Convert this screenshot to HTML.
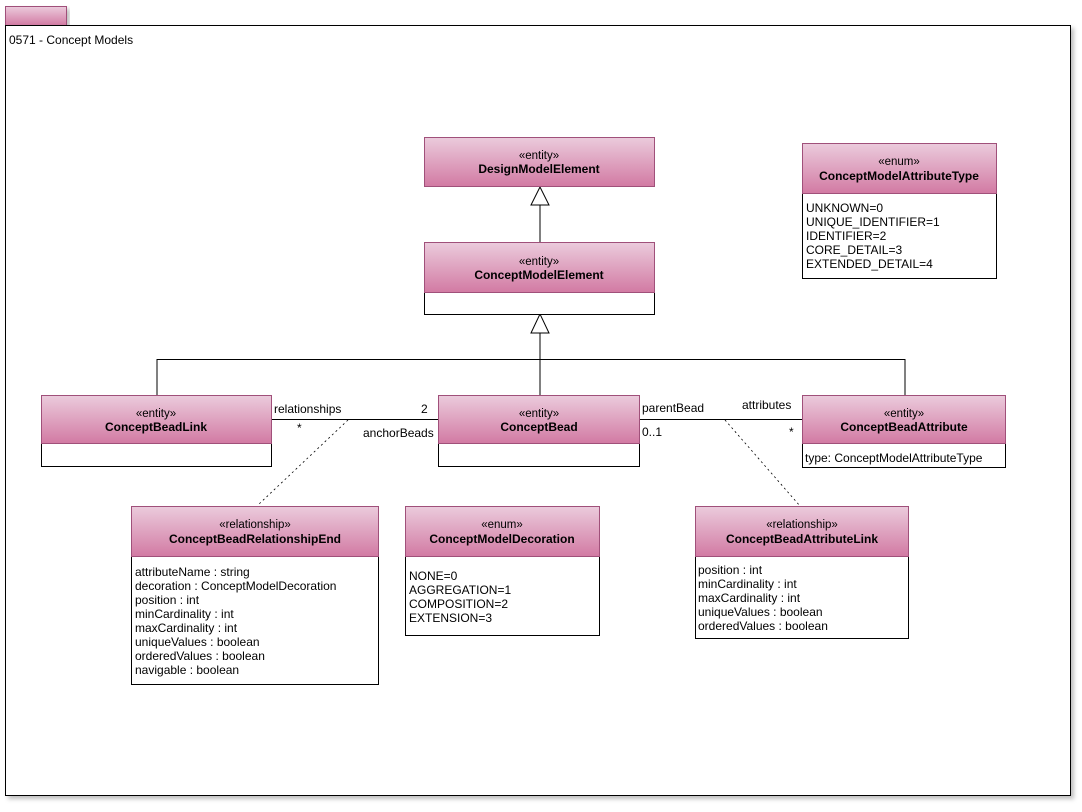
<!DOCTYPE html>
<html><head><meta charset="utf-8"><style>
body{margin:0;background:#fff}
svg{display:block;font-family:"Liberation Sans",Arial,sans-serif}
</style></head><body>
<svg width="1082" height="812" viewBox="0 0 1082 812" xmlns="http://www.w3.org/2000/svg">
<defs>
<linearGradient id="g" x1="0" y1="0" x2="0" y2="1">
<stop offset="0" stop-color="#ebcbdc"/><stop offset="1" stop-color="#d27aa3"/>
</linearGradient>
<filter id="sh" x="-5%" y="-5%" width="110%" height="110%"><feDropShadow dx="3" dy="3" stdDeviation="2" flood-color="#000" flood-opacity="0.25"/></filter>
</defs>
<rect x="5.5" y="6.5" width="61" height="19" fill="url(#g)" stroke="#a0507a" filter="url(#sh)"/>
<rect x="5.5" y="25.5" width="1065" height="770" fill="#fff" stroke="#000" filter="url(#sh)"/>
<text x="9" y="44" font-size="12">0571 - Concept Models</text>

<g stroke="#000" fill="none">
<line x1="540" y1="205" x2="540" y2="242"/>
<polygon points="540,187 531,205 549,205" fill="#fff"/>
<line x1="540" y1="333" x2="540" y2="395"/>
<polygon points="540,314 531,333 549,333" fill="#fff"/>
<polyline points="157,395 157,359.5 905,359.5 905,395"/>
<line x1="272" y1="419.5" x2="438" y2="419.5"/>
<line x1="640" y1="419.5" x2="802" y2="419.5"/>
<line x1="348" y1="420" x2="258" y2="505" stroke-dasharray="2,3" stroke-width="0.8"/>
<line x1="725" y1="420" x2="800" y2="506" stroke-dasharray="2,3" stroke-width="0.8"/>
</g>
<g font-size="12">
<text x="274" y="413">relationships</text>
<text x="297" y="432">*</text>
<text x="421" y="413">2</text>
<text x="363" y="437">anchorBeads</text>
<text x="642" y="412">parentBead</text>
<text x="642" y="436">0..1</text>
<text x="742" y="409">attributes</text>
<text x="789" y="436">*</text>
</g>

<g font-size="11.5" text-anchor="middle">
<rect x="424.5" y="137.5" width="230" height="49" fill="url(#g)" stroke="#a0507a"/>
<text x="539" y="159">«entity»</text><text x="539" y="173" font-weight="bold" font-size="12">DesignModelElement</text>
<rect x="424.5" y="292.5" width="230" height="22" fill="#fff" stroke="#000"/>
<rect x="424.5" y="242.5" width="230" height="50" fill="url(#g)" stroke="#a0507a"/>
<text x="539" y="265">«entity»</text><text x="539" y="279" font-weight="bold" font-size="12">ConceptModelElement</text>
<rect x="41.5" y="443.5" width="230" height="23" fill="#fff" stroke="#000"/>
<rect x="41.5" y="395.5" width="230" height="48" fill="url(#g)" stroke="#a0507a"/>
<text x="156" y="417">«entity»</text><text x="156" y="431" font-weight="bold" font-size="12">ConceptBeadLink</text>
<rect x="438.5" y="443.5" width="201" height="23" fill="#fff" stroke="#000"/>
<rect x="438.5" y="395.5" width="201" height="48" fill="url(#g)" stroke="#a0507a"/>
<text x="539" y="417">«entity»</text><text x="539" y="431" font-weight="bold" font-size="12">ConceptBead</text>
<rect x="802.5" y="443.5" width="203" height="24" fill="#fff" stroke="#000"/>
<rect x="802.5" y="395.5" width="203" height="48" fill="url(#g)" stroke="#a0507a"/>
<text x="904" y="417">«entity»</text><text x="904" y="431" font-weight="bold" font-size="12">ConceptBeadAttribute</text>
<rect x="802.5" y="193.5" width="194" height="85" fill="#fff" stroke="#000"/>
<rect x="802.5" y="143.5" width="194" height="50" fill="url(#g)" stroke="#a0507a"/>
<text x="899" y="165">«enum»</text><text x="899" y="180" font-weight="bold" font-size="12">ConceptModelAttributeType</text>
<rect x="131.5" y="556.5" width="247" height="128" fill="#fff" stroke="#000"/>
<rect x="131.5" y="506.5" width="247" height="50" fill="url(#g)" stroke="#a0507a"/>
<text x="255" y="528">«relationship»</text><text x="255" y="543" font-weight="bold" font-size="12">ConceptBeadRelationshipEnd</text>
<rect x="405.5" y="556.5" width="194" height="79" fill="#fff" stroke="#000"/>
<rect x="405.5" y="506.5" width="194" height="50" fill="url(#g)" stroke="#a0507a"/>
<text x="502" y="528">«enum»</text><text x="502" y="543" font-weight="bold" font-size="12">ConceptModelDecoration</text>
<rect x="695.5" y="556.5" width="213" height="82" fill="#fff" stroke="#000"/>
<rect x="695.5" y="506.5" width="213" height="50" fill="url(#g)" stroke="#a0507a"/>
<text x="802" y="528">«relationship»</text><text x="802" y="543" font-weight="bold" font-size="12">ConceptBeadAttributeLink</text>
</g>

<g font-size="12">
<text x="805" y="462">type: ConceptModelAttributeType</text>
<text x="806" y="212">UNKNOWN=0</text>
<text x="806" y="226">UNIQUE_IDENTIFIER=1</text>
<text x="806" y="240">IDENTIFIER=2</text>
<text x="806" y="254">CORE_DETAIL=3</text>
<text x="806" y="268">EXTENDED_DETAIL=4</text>

<text x="135" y="576">attributeName : string</text>
<text x="135" y="590">decoration : ConceptModelDecoration</text>
<text x="135" y="604">position : int</text>
<text x="135" y="618">minCardinality : int</text>
<text x="135" y="632">maxCardinality : int</text>
<text x="135" y="646">uniqueValues : boolean</text>
<text x="135" y="660">orderedValues : boolean</text>
<text x="135" y="674">navigable : boolean</text>

<text x="409" y="580">NONE=0</text>
<text x="409" y="594">AGGREGATION=1</text>
<text x="409" y="608">COMPOSITION=2</text>
<text x="409" y="622">EXTENSION=3</text>

<text x="698" y="574">position : int</text>
<text x="698" y="588">minCardinality : int</text>
<text x="698" y="602">maxCardinality : int</text>
<text x="698" y="616">uniqueValues : boolean</text>
<text x="698" y="630">orderedValues : boolean</text>
</g>
</svg>
</body></html>
